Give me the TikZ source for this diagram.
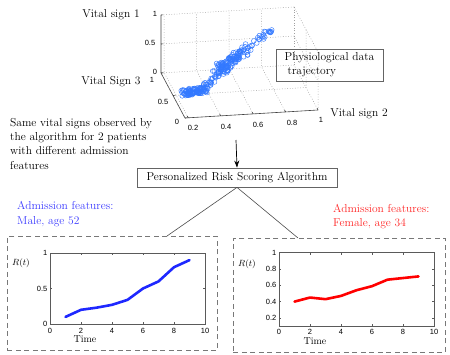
\documentclass[tikz,border=0pt]{standalone}
\usepackage{fontspec}
\newfontfamily\helv{Liberation Sans}
\usetikzlibrary{arrows.meta}
\definecolor{scat}{RGB}{50,120,255}
\definecolor{bline}{RGB}{30,40,255}
\definecolor{rline}{RGB}{255,0,0}
\definecolor{btext}{RGB}{60,60,255}
\definecolor{rtext}{RGB}{255,40,40}
\definecolor{axcol}{RGB}{90,90,90}
\definecolor{gridc}{RGB}{160,160,160}
\definecolor{boxc}{RGB}{100,100,100}
\definecolor{dashc}{RGB}{120,120,120}
\tikzset{
  gridln/.style={gridc, line width=0.5pt, dash pattern=on 0.8pt off 1.8pt},
  axis3d/.style={black!75, line width=0.6pt},
  ticklab/.style={font=\helv\fontsize{7.5}{8}\selectfont, inner sep=0pt},
  pt/.style={scat, line width=0.45pt},
  axframe/.style={axcol, line width=0.9pt},
  bcurve/.style={bline, line width=2.6pt, line join=round, line cap=round},
  rcurve/.style={rline, line width=2.6pt, line join=round, line cap=round},
  plainbox/.style={draw=boxc, line width=0.8pt},
  dbox/.style={draw=dashc, line width=0.9pt, dash pattern=on 5pt off 3.5pt, inner sep=0pt, anchor=north west},
  conn/.style={black!70, line width=0.6pt},
}
\begin{document}
\begin{tikzpicture}[x=1pt,y=-1pt, font=\fontsize{11.5}{14.3}\selectfont]
\useasboundingbox (0,0) rectangle (450,354);

% ---------- 3D scatter plot ----------
\begin{scope}[shift={(185,118)}, x={(162.2pt,9.76pt)}, y={(-24pt,45pt)}, z={(0pt,58pt)}]
  \coordinate (A) at (0,1,0);
  \coordinate (B) at (0,0,0);
  \coordinate (C) at (0.82,0,0);
  \coordinate (D) at (0.82,1,0);
  \coordinate (At) at (0,1,1);
  \coordinate (Ct) at (0.82,0,1);
  \coordinate (Dt) at (0.82,1,1);
  \draw[gridln] (A) -- (D) -- (C);
  \draw[gridln] (At) -- (Dt) -- (Ct) -- (C);
  \draw[gridln] (D) -- (Dt);
  \foreach \v in {0.2,0.4,0.6,0.8}{
    \draw[gridln] (\v-0.18,0,0) -- (\v-0.18,1,0) -- (\v-0.18,1,1);
  }
  \draw[gridln] (0,0.5,0) -- (0.82,0.5,0) -- (0.82,0.5,1);
  \draw[gridln] (0,1,0.5) -- (0.82,1,0.5) -- (0.82,0,0.5);
  \draw[axis3d] (At) -- (A) -- (B) -- (C);
  \foreach \v in {0,0.5,1}{
    \draw[axis3d] (0,1,\v) -- ++(0.015,0,0);
    \draw[axis3d] (0,\v,0) -- ++(0.015,0,0);
  }
  \foreach \v in {0.2,0.4,0.6,0.8,1}{
    \draw[axis3d] (\v-0.18,0,0) -- ++(0,0.04,0);
  }
\end{scope}

% scatter points
\pgfmathsetseed{4242}
\foreach \i in {1,...,100}{
  \pgfmathsetmacro{\tt}{rnd}
  \pgfmathsetmacro{\px}{184+22*\tt+4*rand}
  \pgfmathsetmacro{\py}{93-4*\tt+3.2*rand}
  \draw[pt] (\px,\py) circle[radius=2.4pt];
}
\foreach \i in {1,...,50}{
  \pgfmathsetmacro{\tt}{rnd}
  \pgfmathsetmacro{\px}{205+25*\tt+3.5*rand}
  \pgfmathsetmacro{\py}{85-19*\tt+3.5*rand}
  \draw[pt] (\px,\py) circle[radius=2.4pt];
}
\foreach \i in {1,...,100}{
  \pgfmathsetmacro{\tt}{rnd}
  \pgfmathsetmacro{\px}{217+30*\tt+5*rand}
  \pgfmathsetmacro{\py}{70-20*\tt+4.5*rand}
  \draw[pt] (\px,\py) circle[radius=2.4pt];
}
\foreach \i in {1,...,25}{
  \pgfmathsetmacro{\tt}{rnd}
  \pgfmathsetmacro{\px}{246+25*\tt+3*rand}
  \pgfmathsetmacro{\py}{47-16*\tt+3*rand}
  \draw[pt] (\px,\py) circle[radius=2.4pt];
}

% 3D tick labels
\node[ticklab] (zt1) at (155,14) {1};
\node[ticklab] (zt2) at (150,43) {0.5};
\node[ticklab] (zt3) at (155,72) {0};
\node[ticklab] (yt1) at (152,80) {1};
\node[ticklab] (yt2) at (163,102) {0.5};
\node[ticklab] (yt3) at (177,122) {0};
\node[ticklab] (xt1) at (193,128) {0.2};
\node[ticklab] (xt2) at (226,127) {0.4};
\node[ticklab] (xt3) at (258,125) {0.6};
\node[ticklab] (xt4) at (292,123) {0.8};
\node[ticklab] (xt5) at (321,120) {1};

% 3D axis labels
\node (vs1) at (111,15) {Vital sign 1};
\node (vs3) at (111,82) {Vital Sign 3};
\node (vs2) at (359,114) {Vital sign 2};

% Physiological data box
\node[plainbox, minimum width=107pt, minimum height=32pt, align=left, inner sep=2pt,
      font=\fontsize{11.5}{14}\selectfont] (phys) at (329.5,65)
  {Physiological data\\\hspace*{3pt}trajectory};

% description text
\node[anchor=north west, align=left, inner sep=0pt] (desc) at (10,118)
  {Same vital signs observed by\\the algorithm for 2 patients\\with different admission\\features};

% algorithm box and arrow
\node[plainbox, minimum width=200pt, minimum height=19pt, inner sep=2pt] (alg) at (237,177.5)
  {Personalized Risk Scoring Algorithm};
\coordinate (astart) at (236,140);
\draw[black, line width=0.7pt, -{Stealth[length=7pt,width=5pt]}] (astart) -- (alg.north);

% admission features
\node[anchor=north west, align=left, inner sep=0pt, text=btext, font=\fontsize{11.5}{15}\selectfont] (lfeat) at (17,201)
  {Admission features:\\Male, age 52};
\node[anchor=north west, align=left, inner sep=0pt, text=rtext, font=\fontsize{11.5}{14.5}\selectfont] (rfeat) at (333,204)
  {Admission features:\\Female, age 34};

% dashed boxes
\node[dbox, minimum width=210pt, minimum height=114pt] (lbox) at (7,236) {};
\node[dbox, minimum width=212pt, minimum height=114pt] (rbox) at (233,238) {};
\coordinate (lend) at (167,236);
\coordinate (rend) at (298,238);
\draw[conn] (alg.south) -- (lend);
\draw[conn] (alg.south) -- (rend);

% left plot
\begin{scope}[shift={(50,324)}, x=15.5pt, y=71pt]
  \draw[axframe] (0,0) rectangle (10,1);
  \foreach \t in {2,4,6,8}{
    \draw[axframe, line width=0.5pt] (\t,0) -- ++(0,2pt);
    \draw[axframe, line width=0.5pt] (\t,1) -- ++(0,-2pt);
  }
  \draw[axframe, line width=0.5pt] (0,0.5) -- ++(2pt,0);
  \draw[axframe, line width=0.5pt] (10,0.5) -- ++(-2pt,0);
  \draw[bcurve] plot coordinates {(1,0.1) (2,0.2) (3,0.23) (4,0.27) (5,0.34) (6,0.5) (7,0.6) (8,0.8) (9,0.9)};
  \foreach \t in {0,2,4,6,8,10}{
    \node[ticklab, anchor=north, yshift=-4pt] at (\t,0) {\t};
  }
  \node[ticklab, anchor=east, xshift=-2.5pt] at (0,1) {1};
  \node[ticklab, anchor=east, xshift=-2.5pt] at (0,0.5) {0.5};
  \node[ticklab, anchor=east, xshift=-2.5pt] at (0,0) {0};
\end{scope}
\node[font=\fontsize{9}{10}\selectfont] (lr) at (21,263) {$R(t)$};
\node[font=\fontsize{10}{12}\selectfont] (ltime) at (85,339.5) {Time};

% right plot
\begin{scope}[shift={(279,334.1)}, x=15.5pt, y=81.25pt]
  \draw[axframe] (0,0.1) rectangle (10,1);
  \foreach \t in {2,4,6,8}{
    \draw[axframe, line width=0.5pt] (\t,0.1) -- ++(0,2pt);
    \draw[axframe, line width=0.5pt] (\t,1) -- ++(0,-2pt);
  }
  \foreach \r in {0.2,0.4,0.6,0.8}{
    \draw[axframe, line width=0.5pt] (0,\r) -- ++(2pt,0);
    \draw[axframe, line width=0.5pt] (10,\r) -- ++(-2pt,0);
    \node[ticklab, anchor=east, xshift=-2.5pt] at (0,\r) {\r};
  }
  \node[ticklab, anchor=east, xshift=-2.5pt] at (0,1) {1};
  \draw[rcurve] plot coordinates {(1,0.4) (2,0.45) (3,0.43) (4,0.47) (5,0.54) (6,0.59) (7,0.67) (8,0.69) (9,0.71)};
  \foreach \t in {0,2,4,6,8,10}{
    \node[ticklab, anchor=north, yshift=-3.5pt] at (\t,0.1) {\t};
  }
\end{scope}
\node[font=\fontsize{9}{10}\selectfont] (rr) at (247,264) {$R(t)$};
\node[font=\fontsize{10}{12}\selectfont] (rtime) at (315,341) {Time};

\end{tikzpicture}
\end{document}
